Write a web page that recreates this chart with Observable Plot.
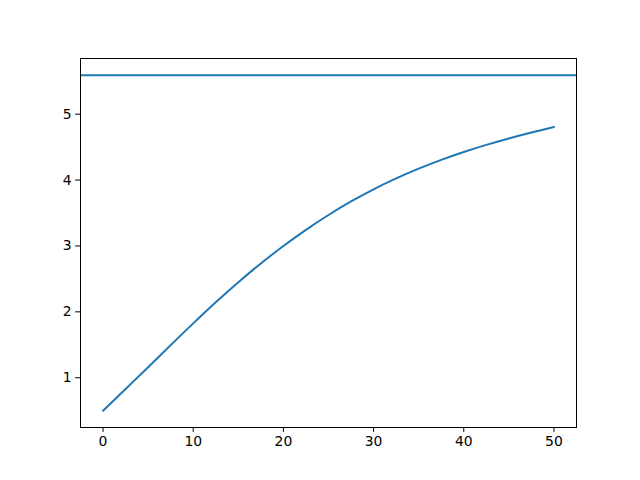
<!DOCTYPE html>
<html>
<head>
<meta charset="utf-8">
<script src="https://cdn.jsdelivr.net/npm/d3@7"></script>
<script src="https://cdn.jsdelivr.net/npm/@observablehq/plot@0.6"></script>
<style>
  html, body { margin: 0; padding: 0; background: #fff; }
  #chart { width: 640px; height: 480px; }
</style>
</head>
<body>
<div id="chart"></div>
<script>
const xs = [0, 2.5, 5, 7.5, 10, 12.5, 15, 17.5, 20, 22.5, 25, 27.5, 30, 32.5, 35, 37.5, 40, 42.5, 45, 47.5, 50];
const ys = [0.5, 0.83, 1.16, 1.495, 1.825, 2.145, 2.45, 2.735, 3.0, 3.245, 3.47, 3.675, 3.86, 4.025, 4.173, 4.306, 4.426, 4.534, 4.632, 4.722, 4.805];
const hLine = [5.59];
const xTicks = [0, 10, 20, 30, 40, 50];
const yTicks = [1, 2, 3, 4, 5];

const data = xs.map((x, i) => ({x, y: ys[i]}));

const chart = Plot.plot({
  width: 640,
  height: 480,
  marginLeft: 80,
  marginRight: 64,
  marginTop: 58,
  marginBottom: 53,
  style: {fontFamily: "DejaVu Sans", fontSize: "13.9px", color: "black", background: "white"},
  x: {domain: [-2.5, 52.5]},
  y: {domain: [0.245, 5.845]},
  marks: [
    Plot.axisX({ticks: xTicks, tickSize: 4.9, tickPadding: 4, label: null, tickFormat: d => String(d)}),
    Plot.axisY({ticks: yTicks, tickSize: 4.9, tickPadding: 4, label: null, tickFormat: d => String(d)}),
    Plot.ruleY(hLine, {stroke: "#1f77b4", strokeWidth: 2}),
    Plot.line(data, {x: "x", y: "y", stroke: "#1f77b4", strokeWidth: 2, curve: "monotone-x"}),
    Plot.frame({stroke: "black", strokeWidth: 1})
  ]
});
document.getElementById("chart").appendChild(chart);
</script>
</body>
</html>
